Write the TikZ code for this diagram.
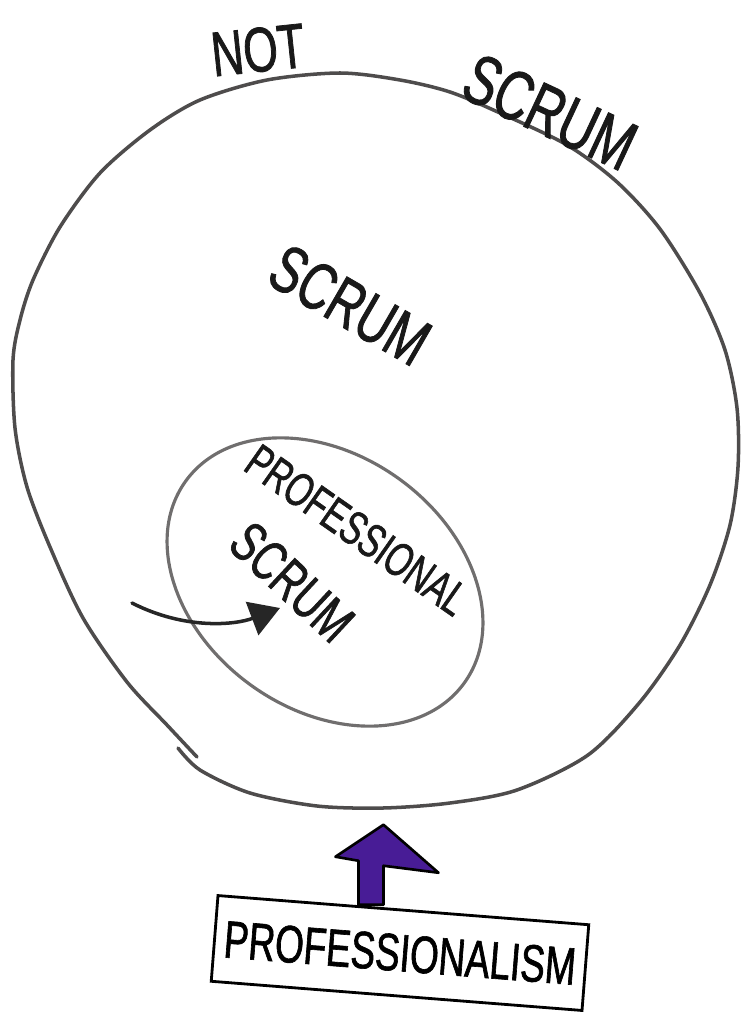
\documentclass[tikz,border=0pt]{standalone}
\usepackage{fontspec}
\newfontfamily\handfont[FakeStretch=0.7,FakeBold=1.2]{Liberation Sans}
\newcommand{\handsize}[1]{\handfont\fontsize{#1}{#1}\selectfont}
\usetikzlibrary{arrows.meta}
\begin{document}
\begin{tikzpicture}[x=0.02cm,y=-0.02cm,
    hand/.style={inner sep=0pt,text=black!90}]
    \definecolor{scrum_pen}{RGB}{78,76,76}
    \definecolor{scrum_penB}{RGB}{112,110,110}
    \definecolor{scrum_arrow}{RGB}{72,28,150}
    \useasboundingbox (0,0) rectangle (756,1024);
    \draw[scrum_pen,line width=2pt,line cap=round] plot[smooth] coordinates {(178,748) (200,770) (250,793) (317,806) (383,808) (450,803) (517,790) (588,755) (640,702) (680,645) (710,585) (730,525) (738,467) (737,408) (725,350) (700,293) (660,229) (617,182) (567,145) (500,113) (450,92) (400,80) (340,73) (267,80) (200,100) (150,130) (100,173) (60,227) (33,280) (20,320) (13,360) (15,428) (27,487) (50,547) (83,618) (127,682) (167,725) (197,757)};
    \draw[scrum_penB,line width=1.8pt,rotate around={-36:(325,582)}] (325,582) ellipse (172 and 127);
    \node[hand,font=\handsize{36},rotate=6]   (nottext)    at (258,50)  {NOT};
    \node[hand,font=\handsize{40},rotate=-25] (outerscrum) at (550,112) {SCRUM};
    \node[hand,font=\handsize{38},rotate=-30] (scrum)      at (350,305) {SCRUM};
    \node[hand,font=\handsize{27},rotate=-35] (proflabel)  at (357,530) {PROFESSIONAL};
    \node[hand,font=\handsize{32},rotate=-43] (profscrum)  at (292,582) {SCRUM};
    \coordinate (curlstart) at (132,603);
    \coordinate (curltip)   at (280,608);
    \draw[black!85,line width=2pt,line cap=round,-{Triangle[length=17pt,width=20pt]}] (curlstart) .. controls (185,630) and (235,625) .. (curltip);
    \node[draw=black,line width=1.6pt,fill=white,rotate=-4.5,minimum width=7.44cm,minimum height=1.72cm,font=\handsize{30}] (profbox) at (400,953) {PROFESSIONALISM};
    \draw[line width=1.5pt,line join=round,fill=scrum_arrow,shift={(profbox.north)}] (-45,-4) -- (-45,-48) -- (-68,-52) -- (-20,-84) -- (35,-36) -- (-20,-43) -- (-20,-4) -- cycle;
\end{tikzpicture}
\end{document}
